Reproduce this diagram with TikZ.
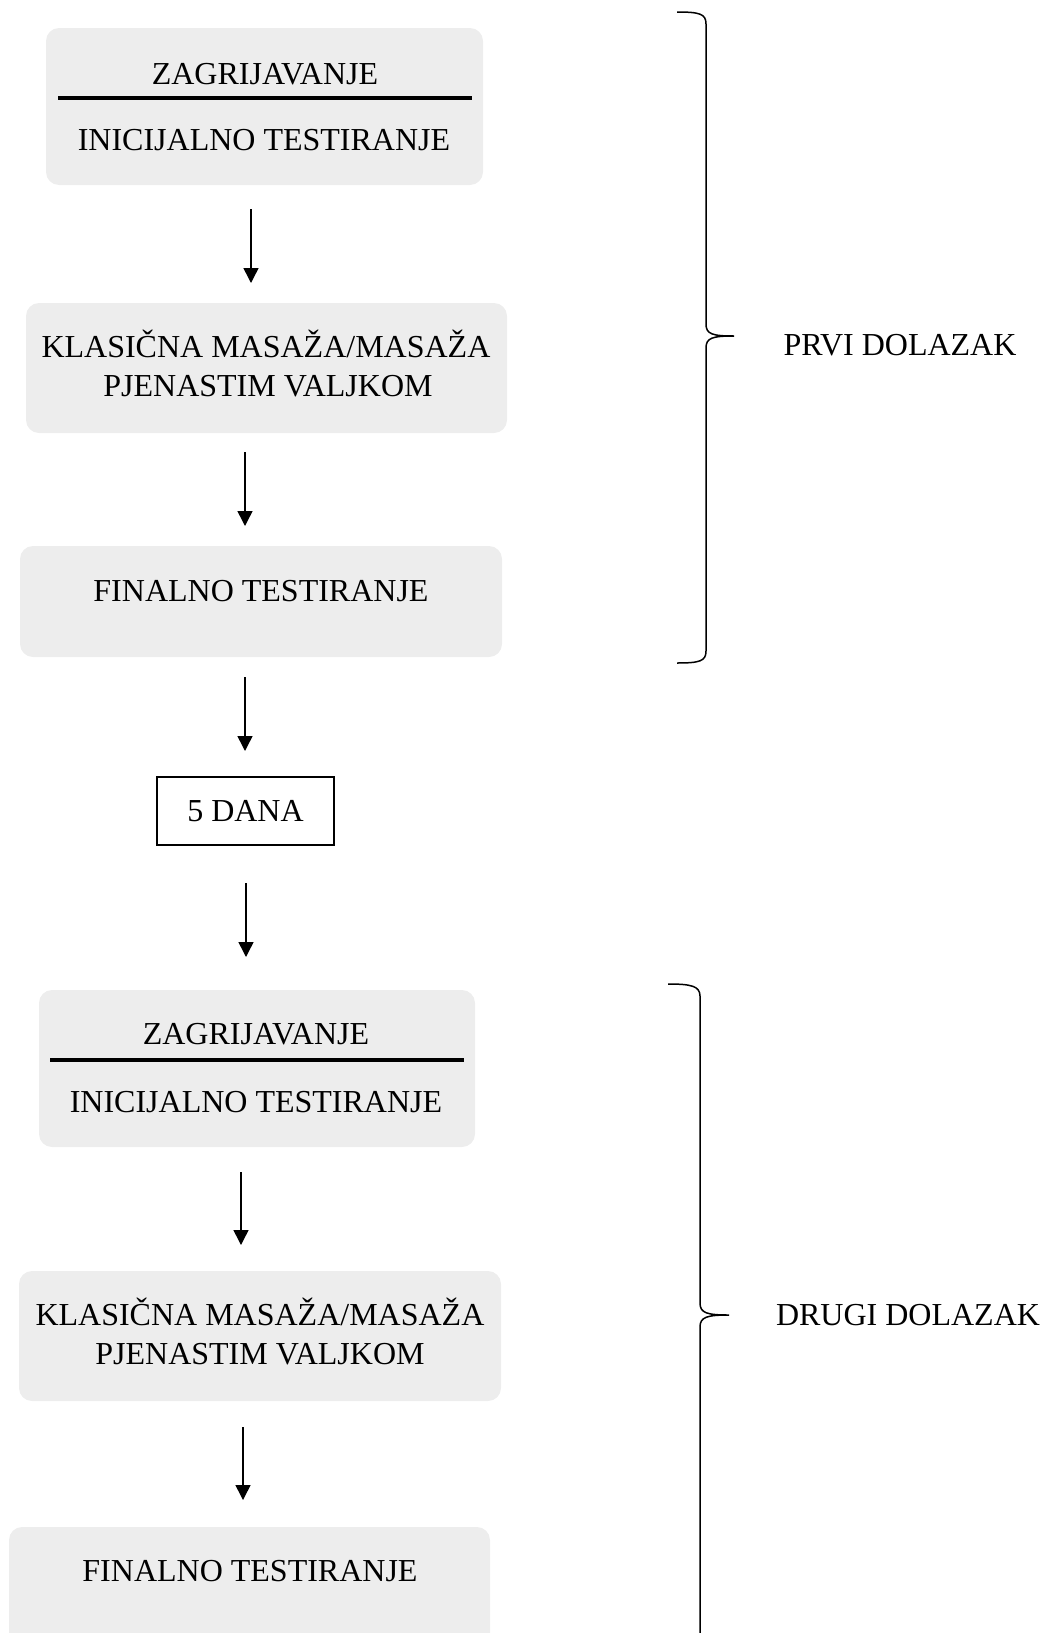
\documentclass[tikz,border=0pt]{standalone}
\usepackage{fontspec}
\setmainfont{Liberation Serif}
\usetikzlibrary{arrows.meta,fit}
\definecolor{boxGray}{HTML}{EDEDED}

\begin{document}
\begin{tikzpicture}
[x=0.5pt,y=-0.5pt,%
  darkArrow/.style={-{Triangle[length=7.5pt,width=7.5pt]},line width=0.75pt},%
  stepBox/.style={fill=boxGray,rounded corners=6.5pt,inner sep=0pt},%
  stepText/.style={inner sep=0pt,text height=10.6pt,text depth=0pt,font=\fontsize{16}{19}\selectfont},%
  dayBox/.style={stepText,draw,line width=0.75pt,minimum width=88.5pt,minimum height=34pt},%
  braceLine/.style={line width=0.75pt}]
\useasboundingbox (0,0) rectangle (1048,1633);
\clip (0,0) rectangle (1048,1633);
%% grey boxes
\foreach \nodename/\xa/\ya/\xb/\yb in {warmA/46/28/483/185, massageA/26/303/507/433,
  finalA/20/546/502/657, warmB/39/990/475/1147, massageB/19/1271/501/1401, finalB/9/1527/490/1650}
{
  \node (\nodename) [stepBox,fit={(\xa,\ya) (\xb,\yb)}] {};
}
%% texts
\foreach \nodename/\x/\y/\txt in {warmAtop/265/74/ZAGRIJAVANJE, warmAbot/264/140/INICIJALNO TESTIRANJE,
  massageAtop/266/347/{KLASIČNA MASAŽA/MASAŽA}, massageAbot/268/386/PJENASTIM VALJKOM,
  finalAtext/261/591/FINALNO TESTIRANJE,
  warmBtop/256/1034/ZAGRIJAVANJE, warmBbot/256/1102/INICIJALNO TESTIRANJE,
  massageBtop/260/1315/{KLASIČNA MASAŽA/MASAŽA}, massageBbot/260/1354/PJENASTIM VALJKOM,
  finalBtext/250/1571/FINALNO TESTIRANJE,
  firstVisit/900/345/PRVI DOLAZAK, secondVisit/908/1315/DRUGI DOLAZAK}
{
  \node (\nodename) at (\x,\y) [stepText] {\txt};
}
\node (days) at (245.5,811) [dayBox] {5 DANA};
%% dividing lines
\draw[line width=2pt] (58,98) -- (472,98);
\draw[line width=2pt] (50,1060) -- (464,1060);
%% arrows
\foreach \nodename/\x/\ya/\yb in {arA/251/209/283, arB/245/452/526, arC/245/677/751,
  arD/246/883/957, arE/241/1172/1245, arF/243/1427/1500}
{
  \coordinate (\nodename s) at (\x,\ya);
  \coordinate (\nodename e) at (\x,\yb);
}
\foreach \nodename in {arA, arB, arC, arD, arE, arF}
{
  \draw[darkArrow] (\nodename s) -- (\nodename e);
}
%% braces
\draw[braceLine] (677,12) .. controls (700,12) and (706,14) .. (706,24) -- (706,324)
  .. controls (706,334) and (712,336) .. (734,336)
  .. controls (712,336) and (706,338) .. (706,348) -- (706,651)
  .. controls (706,661) and (700,663) .. (677,663);
\draw[braceLine] (668,984) .. controls (691,984) and (700,986) .. (700,996) -- (700,1303)
  .. controls (700,1313) and (707,1315) .. (729,1315)
  .. controls (707,1315) and (700,1317) .. (700,1327) -- (700,1640);
\end{tikzpicture}
\end{document}
